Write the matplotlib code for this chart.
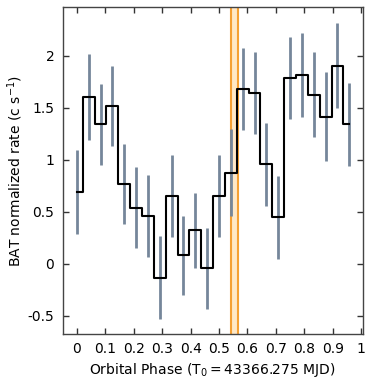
import matplotlib
matplotlib.use("Agg")
import matplotlib.pyplot as plt
import numpy as np
from matplotlib.ticker import FuncFormatter

plt.rcParams['axes.unicode_minus'] = False
plt.rcParams['font.family'] = ['DejaVu Sans']

phase = np.arange(24) / 24.0
rate = [0.69, 1.60, 1.34, 1.52, 0.77, 0.54, 0.46, -0.135, 0.65, 0.08, 0.32, -0.045,
        0.655, 0.875, 1.68, 1.64, 0.955, 0.445, 1.785, 1.815, 1.625, 1.415, 1.905, 1.34]
err = [0.40, 0.415, 0.39, 0.385, 0.385, 0.39, 0.395, 0.40, 0.395, 0.38, 0.36, 0.39,
       0.395, 0.42, 0.39, 0.395, 0.395, 0.40, 0.395, 0.405, 0.41, 0.425, 0.405, 0.40]
band = [0.542, 0.568]
xticks = [0, 0.1, 0.2, 0.3, 0.4, 0.5, 0.6, 0.7, 0.8, 0.9, 1.0]
yticks = [-0.5, 0, 0.5, 1, 1.5, 2]

fig = plt.figure(figsize=(3.73, 3.81), dpi=100)
ax = fig.add_axes([0.168, 0.123, 0.804, 0.858])

ax.axvspan(band[0], band[1], facecolor='#ffe8c6', edgecolor='none', zorder=0)
for b in band:
    ax.axvline(b, color='#f5a033', lw=1.5, zorder=1)

ax.errorbar(phase, rate, yerr=err, fmt='none', ecolor='#75869a', elinewidth=2, capsize=0, zorder=2)
ax.step(phase, rate, where='mid', color='black', lw=1.5, zorder=3)

ax.set_xlim(-0.05, 1.005)
ax.set_ylim(-0.676, 2.465)
ax.set_xticks(xticks)
ax.set_yticks(yticks)
fmt = FuncFormatter(lambda v, p: '%g' % v)
ax.xaxis.set_major_formatter(fmt)
ax.yaxis.set_major_formatter(fmt)
ax.tick_params(direction='in', top=True, right=True, length=4, width=1, color='#333333',
               labelsize=10, pad=6)
for s in ax.spines.values():
    s.set_color('#444444')
    s.set_linewidth(1)

ax.set_xlabel(r'Orbital Phase (T$_0 = 43366.275$ MJD)', fontsize=10, labelpad=3)
ax.set_ylabel(r'BAT normalized rate (c s$^{-1}$)', fontsize=10, labelpad=2)

fig.savefig('out.png', dpi=100)
